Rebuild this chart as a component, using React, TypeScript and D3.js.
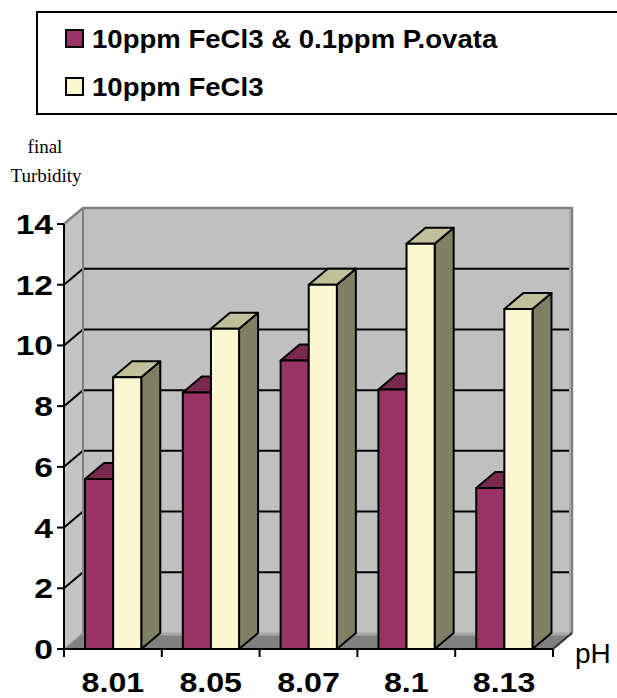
import React from "react";
import * as d3 from "d3";

const categories = ["8.01", "8.05", "8.07", "8.1", "8.13"];
const seriesNames = ["10ppm FeCl3 & 0.1ppm P.ovata", "10ppm FeCl3"];
const seriesCombo = [5.6, 8.45, 9.5, 8.55, 5.3];
const seriesFeCl3 = [8.95, 10.55, 12.0, 13.35, 11.2];
const yTicks = [0, 2, 4, 6, 8, 10, 12, 14];

const W = 617;
const H = 698;
const DX = 19;
const DY = -16;

const y = d3.scaleLinear().domain([0, 14]).range([649, 224]);
const x = d3.scaleBand<string>().domain(categories).range([64, 553]).padding(0);
const bw = x.bandwidth();
const inner = d3
  .scaleBand<string>()
  .domain(["combo", "fecl3"])
  .range([0.215 * bw, 0.215 * bw + 0.575 * bw])
  .padding(0);

const colors = {
  combo: { front: "#993366", top: "#79284f", side: "#5e1f3e" },
  fecl3: { front: "#FBF7D0", top: "#C0C09A", side: "#808064" },
};

function Bar({ x0, w, v, c }: { x0: number; w: number; v: number; c: { front: string; top: string; side: string } }) {
  const yt = y(v);
  const yb = y(0);
  const pts = (a: number[][]) => a.map((p) => p.join(",")).join(" ");
  return (
    <g stroke="#000" strokeWidth={2} strokeLinejoin="round">
      <polygon points={pts([[x0 + w, yt], [x0 + w + DX, yt + DY], [x0 + w + DX, yb + DY], [x0 + w, yb]])} fill={c.side} />
      <polygon points={pts([[x0, yt], [x0 + DX, yt + DY], [x0 + w + DX, yt + DY], [x0 + w, yt]])} fill={c.top} />
      <rect x={x0} y={yt} width={w} height={yb - yt} fill={c.front} />
    </g>
  );
}

function StretchText({ x: tx, y: ty, sx, anchor, size, weight, family, children }: any) {
  return (
    <g transform={`translate(${tx},${ty}) scale(${sx},1)`}>
      <text x={0} y={0} textAnchor={anchor} fontSize={size} fontWeight={weight} fontFamily={family} fill="#000">
        {children}
      </text>
    </g>
  );
}

export default function App() {
  const x0 = 64;
  const x1 = 553;
  const yb = y(0);
  const yTop = y(14);
  const arial = "'Liberation Sans', Arial, sans-serif";
  const times = "'Liberation Serif', 'Times New Roman', serif";
  return (
    <svg width={W} height={H} style={{ position: "absolute", left: 0, top: 0 }}>
      <rect x={0} y={0} width={W} height={H} fill="#fff" />
      {/* Legend */}
      <rect x={37} y={12} width={640} height={102} fill="#fff" stroke="#000" strokeWidth={2} />
      {seriesNames.map((name, i) => (
        <g key={name}>
          <rect x={66} y={30 + i * 48} width={17} height={17} fill={i === 0 ? colors.combo.front : colors.fecl3.front} stroke="#000" strokeWidth={2} />
          <StretchText x={92} y={48 + i * 48} sx={1.06} anchor="start" size={26} weight="bold" family={arial}>
            {name}
          </StretchText>
        </g>
      ))}
      {/* Y title */}
      <text x={45} y={153} textAnchor="middle" fontSize={19} fontFamily={times}>final</text>
      <text x={46} y={182} textAnchor="middle" fontSize={19} fontFamily={times}>Turbidity</text>

      {/* Back wall */}
      <rect x={x0 + DX} y={yTop + DY} width={x1 - x0} height={yb - yTop} fill="#C0C0C0" />
      {/* Side wall */}
      <polygon
        points={`${x0},${yTop} ${x0 + DX},${yTop + DY} ${x0 + DX},${yb + DY} ${x0},${yb}`}
        fill="#C4C4C4"
      />
      {/* Floor */}
      <polygon
        points={`${x0},${yb} ${x0 + DX},${yb + DY} ${x1 + DX},${yb + DY} ${x1},${yb}`}
        fill="#808080"
      />
      <line x1={x0 + DX} x2={x1 + DX} y1={yb + DY + 1} y2={yb + DY + 1} stroke="#a8a8a8" strokeWidth={3} />
      {/* Gridlines */}
      {yTicks.filter((t) => t > 0 && t < 14).map((t) => (
        <g key={t}>
          <line x1={x0 + DX} x2={x1 + DX} y1={y(t) + DY} y2={y(t) + DY} stroke="#000" strokeWidth={2} />
          <line x1={x0} x2={x0 + DX} y1={y(t)} y2={y(t) + DY} stroke="#000" strokeWidth={2} />
        </g>
      ))}
      {/* Wall borders */}
      <polyline
        points={`${x0},${yTop} ${x0 + DX},${yTop + DY} ${x1 + DX},${yTop + DY} ${x1 + DX},${yb + DY}`}
        fill="none"
        stroke="#808080"
        strokeWidth={2.5}
      />
      <line x1={x1 + DX - 2} x2={x1 + DX - 2} y1={yTop + DY + 2} y2={yb + DY} stroke="#a8a8a8" strokeWidth={2} />
      <line x1={x0 + DX} x2={x0 + DX} y1={yTop + DY} y2={yb + DY} stroke="#808080" strokeWidth={2} />
      <line x1={x0} x2={x0 + DX} y1={yb} y2={yb + DY} stroke="#9a9a9a" strokeWidth={1.5} />
      <line x1={x1} x2={x1 + DX} y1={yb} y2={yb + DY} stroke="#333" strokeWidth={2} />

      {/* Bars */}
      {categories.map((cat, i) => {
        const bx = x(cat)!;
        return (
          <g key={cat}>
            <Bar x0={bx + inner("combo")!} w={inner.bandwidth()} v={seriesCombo[i]} c={colors.combo} />
            <Bar x0={bx + inner("fecl3")!} w={inner.bandwidth()} v={seriesFeCl3[i]} c={colors.fecl3} />
          </g>
        );
      })}

      {/* Axes */}
      <line x1={x0} x2={x0} y1={yTop} y2={yb} stroke="#000" strokeWidth={2} />
      <line x1={x0} x2={x1} y1={yb} y2={yb} stroke="#000" strokeWidth={2} />
      {yTicks.map((t) => (
        <g key={t}>
          <line x1={x0 - 7} x2={x0} y1={y(t)} y2={y(t)} stroke="#000" strokeWidth={2} />
          <StretchText x={53} y={y(t) + 10} sx={1.2} anchor="end" size={28} weight="bold" family={arial}>
            {t}
          </StretchText>
        </g>
      ))}
      {[...categories.map((c) => x(c)!), x1].map((tx, i) => (
        <line key={i} x1={tx} x2={tx} y1={yb} y2={yb + 8} stroke="#000" strokeWidth={2} />
      ))}
      {categories.map((c) => (
        <StretchText key={c} x={x(c)! + bw / 2} y={692} sx={1.15} anchor="middle" size={28} weight="bold" family={arial}>
          {c}
        </StretchText>
      ))}
      <text x={575} y={663} fontSize={28} fontFamily={arial} fill="#000">pH</text>
    </svg>
  );
}
